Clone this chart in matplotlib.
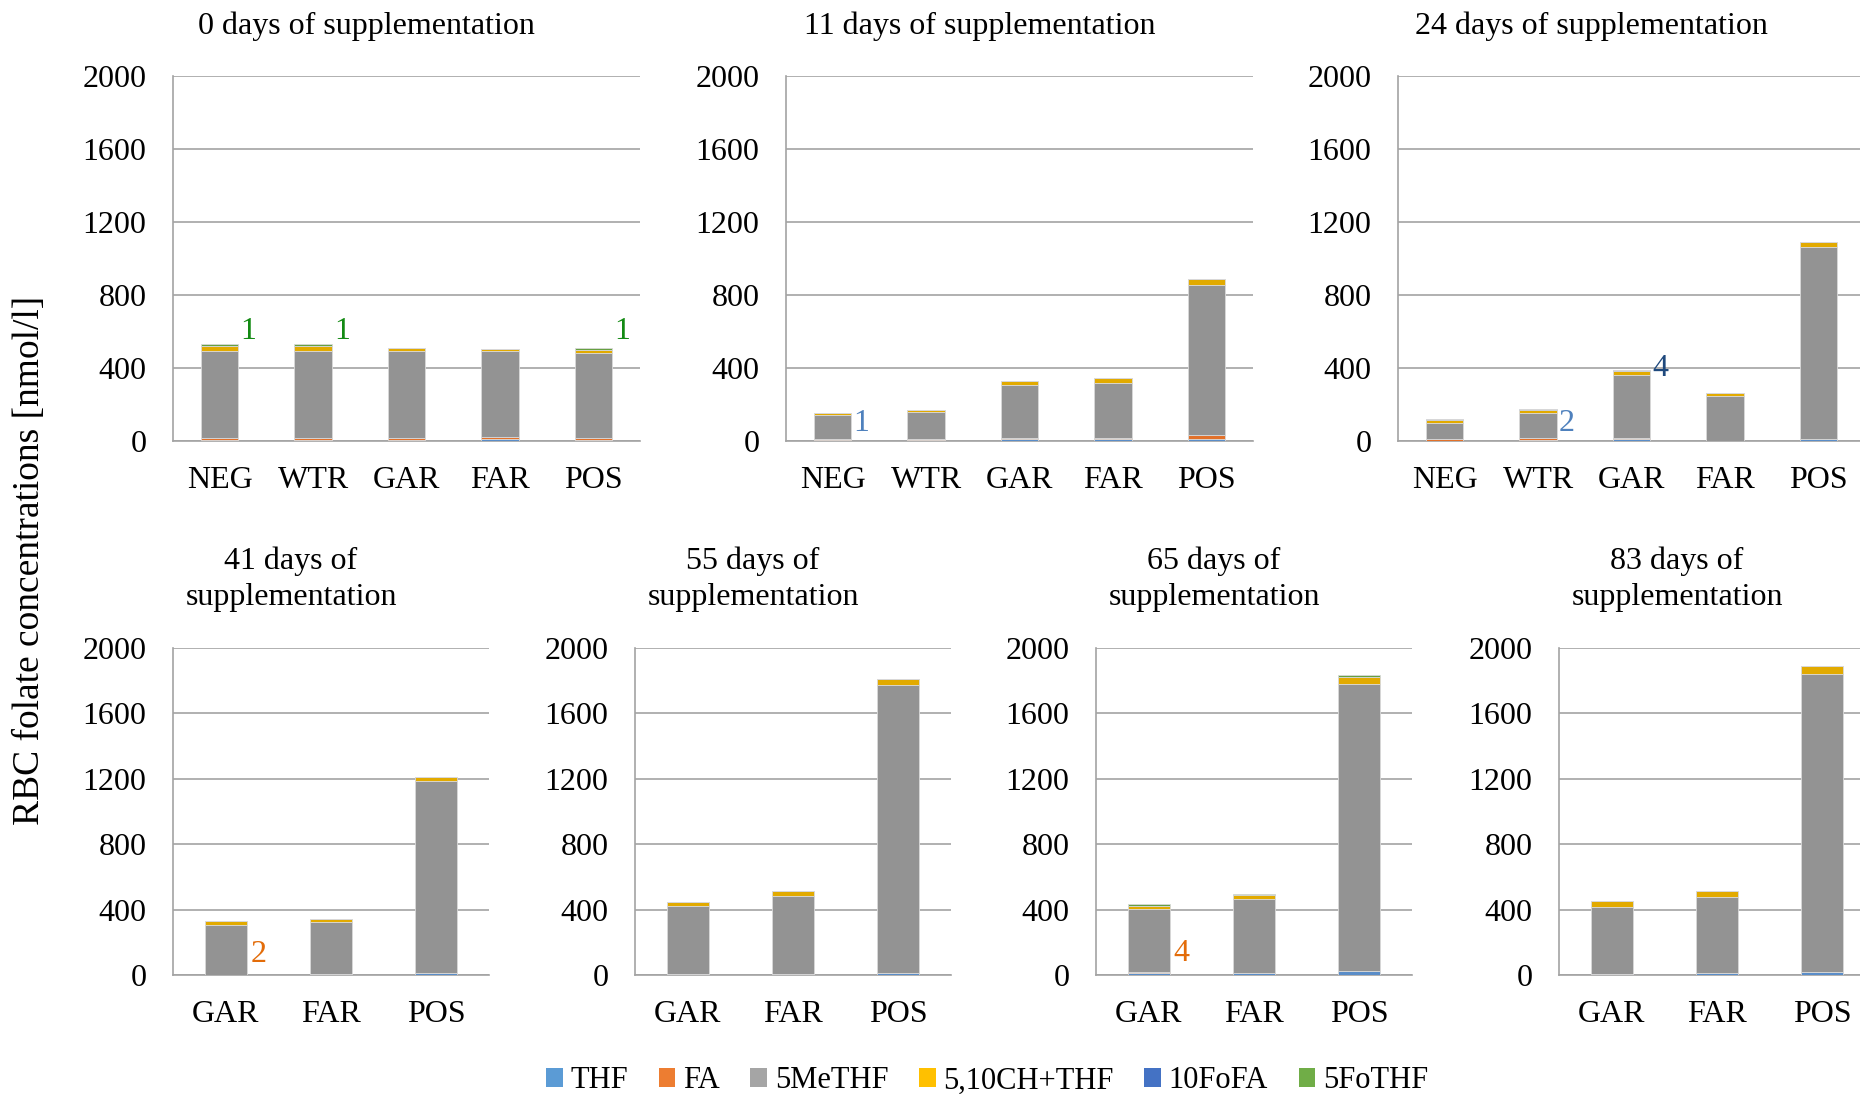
import matplotlib.pyplot as plt
from matplotlib.patches import Patch

plt.rcParams["font.family"] = ["Liberation Serif", "DejaVu Serif"]

titles = ["0 days of supplementation", "11 days of supplementation", "24 days of supplementation",
          "41 days of\nsupplementation", "55 days of\nsupplementation",
          "65 days of\nsupplementation", "83 days of\nsupplementation"]
groups = [["NEG", "WTR", "GAR", "FAR", "POS"]] * 3 + [["GAR", "FAR", "POS"]] * 4

folates = ["THF", "FA", "5MeTHF", "5,10CH+THF", "10FoFA", "5FoTHF"]
thf = [[8, 8, 7, 11, 5], [7, 7, 9, 11, 13], [0, 5, 9, 0, 11],
       [0, 8, 12], [4, 6, 14], [12, 10, 22], [4, 10, 16]]
fa = [[7, 7, 11, 13, 13], [5, 5, 7, 6, 22], [13, 11, 7, 0, 0],
      [0, 0, 0], [0, 0, 0], [8, 0, 4], [0, 0, 0]]
methf = [[480, 480, 473, 467, 464], [132, 148, 289, 300, 821], [88, 139, 345, 249, 1051],
         [306, 316, 1173], [419, 480, 1761], [383, 454, 1755], [411, 468, 1828]]
ch_thf = [[25, 24, 20, 15, 18], [9, 9, 26, 26, 29], [15, 13, 22, 16, 29],
          [22, 20, 28], [22, 26, 35], [22, 24, 43], [35, 33, 47]]
fofa = [[3, 3, 0, 0, 0], [0, 0, 0, 0, 0], [5, 7, 7, 0, 0],
        [0, 0, 0], [0, 0, 0], [0, 0, 0], [0, 0, 0]]
fothf = [[10, 12, 0, 0, 9], [0, 0, 0, 0, 0], [0, 0, 0, 0, 0],
         [0, 0, 0], [0, 0, 0], [8, 8, 10], [0, 0, 0]]
series = [thf, fa, methf, ch_thf, fofa, fothf]

# significance marks: panel, group index, text, height, colour
note_panel = [0, 0, 0, 1, 2, 2, 3, 5]
note_group = [0, 1, 4, 0, 1, 2, 0, 0]
note_text = ["1", "1", "1", "1", "2", "4", "2", "4"]
note_y = [600, 600, 600, 97, 97, 396, 124, 131]
note_color = ["#138a13", "#138a13", "#138a13", "#4f81bd", "#4f81bd", "#1f497d", "#e36c09", "#e36c09"]

bar_colors = ["#5a8dc8", "#e2712a", "#939393", "#e2aa00", "#3f66b0", "#66a040"]
legend_colors = ["#5b9bd5", "#ed7d31", "#a5a5a5", "#ffc000", "#4472c4", "#70ad47"]

W, H = 1860, 1094
fig = plt.figure(figsize=(W / 100, H / 100), dpi=100)

# axes boxes in pixels: left, top, width, height
boxes = [(173, 76, 467, 365), (786, 76, 467, 365), (1398, 76, 467, 365),
         (173, 648, 316, 327), (635, 648, 316, 327), (1096, 648, 316, 327), (1559, 648, 316, 327)]

fs = 23
grid_c = "#a3a3a3"
for i, (l, t, w, h) in enumerate(boxes):
    ax = fig.add_axes([l / W, 1 - (t + h) / H, w / W, h / H])
    x = list(range(len(groups[i])))
    bottom = [0] * len(x)
    for s, c in zip(series, bar_colors):
        vals = s[i]
        ax.bar(x, vals, 0.4, bottom=bottom, color=c, edgecolor="#d9d9d9", linewidth=0.6, zorder=3)
        bottom = [b + v for b, v in zip(bottom, vals)]
    ax.set_xlim(-0.5, len(x) - 0.5)
    ax.set_ylim(0, 2000)
    ax.set_yticks(range(0, 2001, 400))
    ax.set_xticks(x)
    ax.set_xticklabels(groups[i])
    ax.tick_params(length=0, labelsize=fs)
    ax.tick_params(axis="y", pad=19)
    ax.tick_params(axis="x", pad=18)
    ax.grid(axis="y", color=grid_c, linewidth=1.2, zorder=0)
    for sp in ["top", "right"]:
        ax.spines[sp].set_visible(False)
    for sp in ["left", "bottom"]:
        ax.spines[sp].set_color(grid_c)
        ax.spines[sp].set_linewidth(1.2)
    # title, centred over the chart area incl. tick labels
    tx = (l + w / 2 - 40) / W
    ty = 1 - (26 if i < 3 else 579) / H
    fig.text(tx, ty, titles[i], ha="center", va="center", fontsize=fs, linespacing=1.3)
    for p, g, s, y, c in zip(note_panel, note_group, note_text, note_y, note_color):
        if p == i:
            ax.text(g + 0.31, y, s, ha="center", va="center", fontsize=fs, color=c, zorder=4)

fig.text(30 / W, 1 - 560 / H, "RBC folate concentrations [nmol/l]", rotation=90,
         ha="center", va="center", fontsize=27)

handles = [Patch(facecolor=c, edgecolor="none") for c in legend_colors]
fig.legend(handles, folates, loc="center", bbox_to_anchor=(987 / W, 1 - 1081 / H), ncol=6,
           frameon=False, fontsize=22, handlelength=0.55, handleheight=0.55,
           handletextpad=0.25, columnspacing=1.0, borderpad=0)

fig.savefig("out.png", dpi=100)
